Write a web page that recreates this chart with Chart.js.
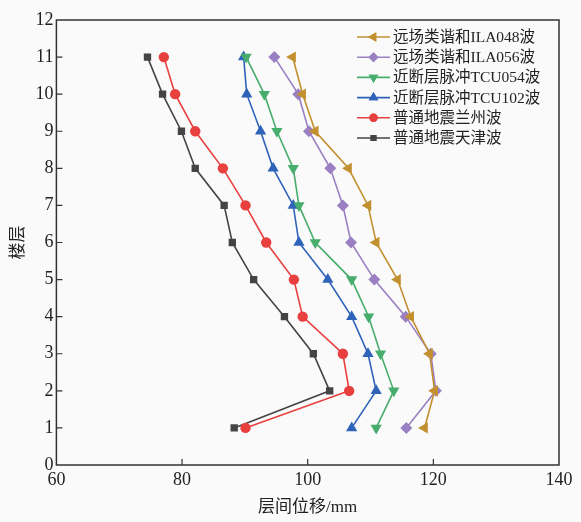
<!DOCTYPE html>
<html>
<head>
<meta charset="utf-8">
<script src="https://cdn.jsdelivr.net/npm/chart.js@4.4.1/dist/chart.umd.min.js"></script>
<style>
  html, body { margin: 0; padding: 0; background: #fafafa; }
  #wrap { width: 581px; height: 522px; }
</style>
</head>
<body>
<div id="wrap"><canvas id="chart" width="581" height="522"></canvas></div>
<script>
// Floors (y) and drift values (x, mm)
const floors = [1, 2, 3, 4, 5, 6, 7, 8, 9, 10, 11];
const ila048 = [118.6, 120.2, 119.4, 116.4, 114.3, 110.9, 109.6, 106.5, 101.2, 99.2, 97.6];
const ila056 = [115.7, 120.4, 119.6, 115.6, 110.6, 106.9, 105.6, 103.6, 100.2, 98.5, 94.7];
const tcu054 = [110.9, 113.7, 111.6, 109.7, 107.0, 101.2, 98.6, 97.7, 95.1, 93.1, 90.2];
const tcu102 = [107.0, 110.9, 109.6, 107.0, 103.2, 98.6, 97.7, 94.5, 92.5, 90.3, 89.8];
const lanzhou = [90.1, 106.6, 105.6, 99.2, 97.8, 93.4, 90.1, 86.5, 82.1, 78.9, 77.1];
const tianjin = [88.3, 103.5, 100.9, 96.3, 91.4, 88.0, 86.7, 82.1, 79.9, 76.9, 74.5];

const seriesNames = ['远场类谐和ILA048波', '远场类谐和ILA056波', '近断层脉冲TCU054波',
                     '近断层脉冲TCU102波', '普通地震兰州波', '普通地震天津波'];
const xTicks = [60, 80, 100, 120, 140];

const serif = '"Liberation Serif", "Noto Sans CJK SC", serif';

function toPoints(values) {
    return values.map((v, i) => ({ x: v, y: floors[i] }));
}

// colour, marker, marker rotation, size
const styles = [
    ['#c39030', 'triangle', -90, 6.5],
    ['#9a80c2', 'rectRot', 0, 6],
    ['#47ad6c', 'triangle', 180, 6.5],
    ['#2f63b9', 'triangle', 0, 6.5],
    ['#e8403f', 'circle', 0, 5.2],
    ['#444444', 'rect', 0, 5.2]
];
const allValues = [ila048, ila056, tcu054, tcu102, lanzhou, tianjin];

const datasets = allValues.map((vals, i) => ({
    label: seriesNames[i],
    data: toPoints(vals),
    showLine: true,
    borderColor: styles[i][0],
    backgroundColor: styles[i][0],
    borderWidth: 1.6,
    pointStyle: styles[i][1],
    pointRotation: styles[i][2],
    pointRadius: styles[i][3],
    pointBorderWidth: 0,
    tension: 0
}));

// Frame, inward ticks and the legend inside the plot
const framePlugin = {
    id: 'frame',
    afterDraw(chart) {
        const ctx = chart.ctx;
        const a = chart.chartArea;
        const xs = chart.scales.x, ys = chart.scales.y;
        ctx.save();
        ctx.strokeStyle = '#333';
        ctx.lineWidth = 1.5;
        ctx.strokeRect(a.left, a.top, a.right - a.left, a.bottom - a.top);
        ctx.lineWidth = 1.2;
        ctx.beginPath();
        for (let v = 1; v < 12; v++) {
            const y = ys.getPixelForValue(v);
            ctx.moveTo(a.left, y);
            ctx.lineTo(a.left + 6, y);
        }
        [80, 100, 120].forEach(v => {
            const x = xs.getPixelForValue(v);
            ctx.moveTo(x, a.bottom);
            ctx.lineTo(x, a.bottom - 6);
        });
        ctx.stroke();

        // legend
        const lx = 357, lineLen = 33;
        let ly = 37;
        ctx.font = '15.5px ' + serif;
        ctx.textBaseline = 'middle';
        chart.data.datasets.forEach(ds => {
            ctx.strokeStyle = ds.borderColor;
            ctx.lineWidth = 1.6;
            ctx.beginPath();
            ctx.moveTo(lx, ly);
            ctx.lineTo(lx + lineLen, ly);
            ctx.stroke();
            ctx.fillStyle = ds.borderColor;
            Chart.helpers.drawPoint(ctx, {
                pointStyle: ds.pointStyle, rotation: ds.pointRotation,
                radius: ds.pointRadius - 1, borderWidth: 0
            }, lx + lineLen / 2, ly);
            ctx.fill();
            ctx.fillStyle = '#222';
            ctx.fillText(ds.label, lx + lineLen + 3, ly + 1);
            ly += 20.2;
        });
        ctx.restore();
    }
};

new Chart(document.getElementById('chart'), {
    type: 'scatter',
    data: { datasets: datasets },
    options: {
        responsive: false,
        animation: false,
        layout: { padding: { top: 20, right: 22, left: 4, bottom: 0 } },
        plugins: { legend: { display: false }, tooltip: { enabled: false } },
        scales: {
            x: {
                min: 60, max: 140,
                afterBuildTicks: axis => { axis.ticks = xTicks.map(v => ({ value: v })); },
                grid: { display: false, drawTicks: false },
                border: { display: false },
                ticks: { color: '#222', font: { family: serif, size: 18 }, padding: 4, maxRotation: 0 },
                title: { display: true, text: '层间位移/mm', color: '#222',
                         font: { family: serif, size: 17 }, padding: { top: 3 } }
            },
            y: {
                min: 0, max: 12,
                ticks: { stepSize: 1, color: '#222', font: { family: serif, size: 18 }, padding: 3 },
                grid: { display: false, drawTicks: false },
                border: { display: false },
                title: { display: true, text: '楼层', color: '#222',
                         font: { family: serif, size: 17 }, padding: { bottom: 4 } }
            }
        }
    },
    plugins: [framePlugin]
});
</script>
</body>
</html>
